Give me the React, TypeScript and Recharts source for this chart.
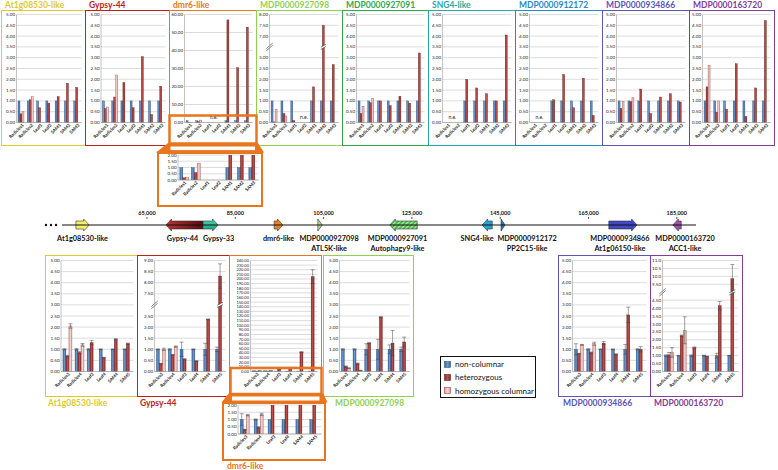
import {
	Bar,
	BarChart,
	CartesianGrid,
	ComposedChart,
	ErrorBar,
	ReferenceArea,
	ReferenceDot,
	ReferenceLine,
	Scatter,
	XAxis,
	YAxis,
} from 'recharts'

// categories
const TOP_CATS = ['Radicles1', 'Radicles2', 'Leaf1', 'Leaf2', 'SAM1', 'SAM2', 'SAM3']
const BOTTOM_CATS = ['Radicles3', 'Radicles4', 'Leaf3', 'Leaf4', 'SAM4', 'SAM5']

// tick labels
const TICKS_5 = ['0.00', '0.50', '1.00', '1.50', '2.00', '2.50', '3.00', '3.50', '4.00', '4.50', '5.00']
const TICKS_60 = ['0.00', '10.00', '20.00', '30.00', '40.00', '50.00', '60.00']
const TICKS_2 = ['0.00', '0.50', '1.00', '1.50', '2.00']
const TICKS_240 = [
	'0.00', '10.00', '20.00', '30.00', '40.00', '50.00', '60.00', '70.00', '80.00', '90.00',
	'100.00', '110.00', '120.00', '130.00', '140.00', '150.00', '160.00', '170.00', '180.00',
	'190.00', '200.00', '210.00', '220.00', '230.00', '240.00',
]
const TICKS_BRK_8 = ['0.00', '0.50', '1.00', '1.50', '2.00', '2.50', '3.00', '7.00', '7.50', '8.00']
const TICKS_BRK_9 = ['0.00', '0.50', '1.00', '1.50', '2.00', '2.50', '7.50', '8.00', '8.50', '9.00']
const TICKS_BRK_11 = ['0.00', '0.50', '1.00', '1.50', '2.00', '2.50', '3.00', '3.50', '4.00', '4.50', '9.50', '10.0', '10.5', '11.0']

// top row: non-columnar / heterozygous / homozygous columnar
const at1gTopNC = [1, 1, 1, 1, 1, 1, 1]
const at1gTopHet = [0.4, 1.05, 0.68, 0.9, 1.2, 1.82, 1.63]
const at1gTopHomo = [0.5, 1.2, null, null, null, null, null]

const gypsyTopNC = [1, 1, 1, 1, 1, 1, 1]
const gypsyTopHet = [0.65, 1.18, 1.85, 0.68, 3.05, 0.37, 1.68]
const gypsyTopHomo = [0.72, 2.2, null, null, null, null, null]

const dmr6TopNC = [1, 1, null, null, 1, 1, 1]
const dmr6TopHet = [0.18, 0.6, null, null, 57, 30.5, 53]
const dmr6TopHomo = [0.2, 1.35, null, null, null, null, null]
const dmr6TopNE = ['Leaf1', 'Leaf2']

const m098TopNC = [1, 1, 1, null, 1, 1, 1]
const m098TopHet = [0.03, 0.42, 3.1, null, 1.65, 7.5, 2.68]
const m098TopHomo = [0.62, 0.3, null, null, null, null, null]
const m098TopNE = ['Leaf2']

const m091TopNC = [1, 1, 1, 1, 1, 1, 1]
const m091TopHet = [0.42, 0.92, 1.0, 0.78, 1.22, 0.9, 3.22]
const m091TopHomo = [0.75, 1.12, null, null, null, null, null]

const sng4TopNC = [null, null, 1, 1, 1, 1, 1]
const sng4TopHet = [null, null, 2.0, 1.6, 1.33, 1.0, 4.05]
const sng4TopHomo = [null, null, null, null, null, null, null]
const sng4TopNE = ['Radicles1', 'Radicles2']

const m172TopNC = [null, null, 1, 1, 1, 1, 1]
const m172TopHet = [null, null, 1.05, 2.22, 0.68, 2.05, 0.33]
const m172TopHomo = [null, null, null, null, null, null, null]
const m172TopNE = ['Radicles1', 'Radicles2']

const m866TopNC = [1, 1, 1, 1, 1, 1, 1]
const m866TopHet = [0.65, 0.97, 1.55, 0.42, 1.18, 1.33, 0.95]
const m866TopHomo = [0.98, 1.15, null, null, null, null, null]

const m720TopNC = [1, 1, 1, 1, 1, 1, 1]
const m720TopHet = [1.65, 0.48, 0.62, 2.72, 0.28, 1.6, 4.72]
const m720TopHomo = [2.65, 1.0, null, null, null, null, null]

// bottom row, with standard errors
const at1gBotNC = [1, 1, 1, 1, 1, 1]
const at1gBotNCErr = [0.03, 0.04, 0.03, 0.02, 0.02, 0.02]
const at1gBotHet = [0.7, 0.85, 1.3, 0.62, 1.45, 1.25]
const at1gBotHetErr = [0.03, 0.04, 0.1, 0.02, 0.03, 0.03]
const at1gBotHomo = [2.05, 1.2, null, null, null, null]
const at1gBotHomoErr = [0.1, 0.06, null, null, null, null]

const gypsyBotNC = [1, 1, 1, 1, 1, 1]
const gypsyBotNCErr = [0.02, 0.03, 0.32, 0.02, 0.27, 0.1]
const gypsyBotHet = [0.35, 0.75, 0.55, 0.47, 2.35, 8.3]
const gypsyBotHetErr = [0.02, 0.02, 0.03, 0.02, 0.02, 0.55]
const gypsyBotHomo = [1.0, 1.12, null, null, null, null]
const gypsyBotHomoErr = [0.05, 0.03, null, null, null, null]

const dmr6BotNC = [1, 1, 1, 1, 1, 1]
const dmr6BotNCErr = [0.4, 0.04, 0, 0, 0, 0]
const dmr6BotHet = [0.3, 0.45, 5.5, 7, 42, 205]
const dmr6BotHetErr = [0.03, 0.05, 0.4, 0.4, 1, 15]
const dmr6BotHomo = [1.3, 1.35, null, null, null, null]
const dmr6BotHomoErr = [0.05, 0.08, null, null, null, null]

const m098BotNC = [1, 1, 1, 1, 1, 1]
const m098BotNCErr = [0.03, 0.03, 0.25, 0.45, 0.2, 0.1]
const m098BotHet = [0.22, 0.35, 1.28, 2.45, 1.28, 1.33]
const m098BotHetErr = [0.03, 0.03, 0.03, 0.03, 0.57, 0.22]
const m098BotHomo = [0.15, 0.05, null, null, null, null]
const m098BotHomoErr = [0.02, 0.01, null, null, null, null]

const m866BotNC = [1, 1, 1, 1, 1, 1]
const m866BotNCErr = [0.25, 0.03, 0.02, 0.02, 0.22, 0.03]
const m866BotHet = [0.8, 0.85, 1.28, 0.78, 2.55, 1.0]
const m866BotHetErr = [0.02, 0.03, 0.07, 0.02, 0.35, 0.12]
const m866BotHomo = [1.2, 1.25, null, null, null, null]
const m866BotHomoErr = [0.02, 0.07, null, null, null, null]

const m720BotNC = [1, 1, 1, 1, 1, 1]
const m720BotNCErr = [0.05, 0.02, 0.05, 0.03, 0.15, 0.02]
const m720BotHet = [1.05, 2.25, 1.5, 0.95, 4.15, 9.85]
const m720BotHetErr = [0.15, 0.05, 0.05, 0.02, 0.27, 0.9]
const m720BotHomo = [1.2, 2.6, null, null, null, null]
const m720BotHomoErr = [0.3, 0.85, null, null, null, null]

// gene map (bp)
const MAP_TICKS = [65000, 85000, 105000, 125000, 145000, 165000, 185000]
const MAP_DOMAIN = [45750, 189350]
const GENE_NAMES = ['At1g08530-like', 'Gypsy-44', 'Gypsy-33', 'dmr6-like', 'MDP0000927098', 'MDP0000927091', 'SNG4-like', 'MDP0000912172', 'MDP0000934866', 'MDP0000163720']
const GENE_ALIAS = ['', '', '', '', 'ATL5K-like', 'Autophagy9-like', '', 'PP2C15-like', 'At1g06150-like', 'ACC1-like']
const GENE_START = [48900, 69300, 77700, 93800, 103700, 120000, 140900, 145200, 169600, 184100]
const GENE_END = [51900, 77700, 81100, 95800, 104700, 126200, 143200, 146100, 176000, 186000]
const GENE_STRAND = [1, -1, 1, 1, 1, -1, -1, 1, 1, -1]

const GENE_FILL: Record<string, string> = {
	'At1g08530-like': '#f4f06a',
	'Gypsy-44': 'url(#gGypsy44)',
	'Gypsy-33': 'url(#gGypsy33)',
	'dmr6-like': '#e8822a',
	MDP0000927098: '#b9dc8c',
	MDP0000927091: 'url(#hatch091)',
	'SNG4-like': '#27a2d4',
	MDP0000912172: '#2e75b6',
	MDP0000934866: '#4048c8',
	MDP0000163720: '#a050a8',
}
const LABEL_DX: Record<string, number> = {
	'Gypsy-44': -2,
	'Gypsy-33': 8,
	MDP0000927098: 9,
	MDP0000927091: -6,
	'SNG4-like': -10,
	MDP0000912172: 24,
	MDP0000934866: -3,
	MDP0000163720: 8,
}

type Val = number | null
type Brk = { low: number; high: number; gap: number }

const toDisp = (v: Val, brk?: Brk) => {
	if (v == null) return null
	if (!brk || v <= brk.low) return v
	return v - brk.high + brk.low + brk.gap
}

const BreakMark = ({ cx, cy, hw, dy }: { cx: number; cy: number; hw: number; dy: number }) => {
	const g = 1.1
	return (
		<g>
			<polygon
				points={`${cx - hw},${cy + dy - g} ${cx + hw},${cy - dy - g} ${cx + hw},${cy - dy + g} ${cx - hw},${cy + dy + g}`}
				fill="#fff"
			/>
			<line x1={cx - hw} y1={cy + dy - g} x2={cx + hw} y2={cy - dy - g} stroke="#333" strokeWidth={0.6} />
			<line x1={cx - hw} y1={cy + dy + g} x2={cx + hw} y2={cy - dy + g} stroke="#333" strokeWidth={0.6} />
		</g>
	)
}

const barShape = (key: string, fill: string, stroke: string, brk?: Brk) => (p: any) => {
	const { x, y, width, height, payload } = p
	if (!(height > 0) || !(width > 0)) return <g />
	const disp = payload[key]
	const mid = brk ? brk.low + brk.gap / 2 : 0
	const broken = brk && disp > brk.low + brk.gap
	const ym = broken ? y + height - height * (mid / disp) : 0
	return (
		<g>
			<rect x={x} y={y} width={width} height={height} fill={fill} stroke={stroke} strokeWidth={0.35} />
			{broken && <BreakMark cx={x + width / 2} cy={ym} hw={width / 2 + 1.5} dy={1.5} />}
		</g>
	)
}

const CatTick = (p: any) => (
	<g transform={`translate(${p.x + 1.5},${p.y + 0.5})`}>
		<text transform="rotate(-45)" textAnchor="end" dy={2} fontSize={4.4} fontWeight={700} fill="#222">
			{p.payload.value}
		</text>
	</g>
)

interface PanelCfg {
	title?: string
	color: string
	left: number
	top: number
	width: number
	height: number
	border: number
	titleX?: number
	titleY?: number
	cats: string[]
	nc: Val[]
	het: Val[]
	homo: Val[]
	ncErr?: Val[]
	hetErr?: Val[]
	homoErr?: Val[]
	ticks: string[]
	brk?: Brk
	ne?: string[]
	yw: number
	mTop: number
	xh: number
	clip?: boolean
	tickFs?: number
}

const Panel = ({ cfg }: { cfg: PanelCfg }) => {
	const w = cfg.width - 2 * cfg.border
	const h = cfg.height - 2 * cfg.border
	const margin = { top: cfg.mTop, right: 2.5, left: 0, bottom: 0 }
	const band = (w - margin.right - cfg.yw) / cfg.cats.length
	const tickVals = cfg.ticks.map((t) => toDisp(parseFloat(t), cfg.brk) as number)
	const yMax = tickVals[tickVals.length - 1]
	const fmt = (v: number) => {
		const i = tickVals.findIndex((t) => Math.abs(t - v) < 1e-6)
		return i >= 0 ? cfg.ticks[i] : ''
	}
	const rows = cfg.cats.map((c, i) => ({
		cat: c,
		nc: toDisp(cfg.nc[i], cfg.brk),
		het: toDisp(cfg.het[i], cfg.brk),
		homo: toDisp(cfg.homo[i], cfg.brk),
		ncErr: cfg.ncErr?.[i] ?? null,
		hetErr: cfg.hetErr?.[i] ?? null,
		homoErr: cfg.homoErr?.[i] ?? null,
	}))
	const hasErr = !!cfg.ncErr
	const errProps = { width: 2, stroke: '#444', strokeWidth: 0.5 }
	const axisLine = { stroke: '#9a9a9a', strokeWidth: 0.6 }
	return (
		<>
			<div
				style={{
					position: 'absolute',
					left: cfg.left,
					top: cfg.top,
					width: cfg.width,
					height: cfg.height,
					border: `${cfg.border}px solid ${cfg.color}`,
					boxSizing: 'border-box',
					background: '#fff',
				}}
			>
				<BarChart width={w} height={h} data={rows} margin={margin} barCategoryGap="16%" barGap={0}>
					<CartesianGrid vertical={false} stroke="#c6c6c6" strokeWidth={0.6} />
					<XAxis
						dataKey="cat"
						interval={0}
						tickLine={false}
						tickSize={0}
						tickMargin={1}
						axisLine={axisLine}
						height={cfg.xh}
						tick={CatTick}
					/>
					<YAxis
						type="number"
						domain={[0, yMax]}
						ticks={tickVals}
						interval={0}
						width={cfg.yw}
						tickLine={false}
						tickSize={0}
						axisLine={axisLine}
						tickMargin={1.5}
						tick={{ fontSize: cfg.tickFs ?? 4.5, fill: '#222' }}
						tickFormatter={fmt}
						allowDataOverflow={!!cfg.clip}
					/>
					{cfg.brk && (
						<ReferenceLine
							y={cfg.brk.low + cfg.brk.gap / 2}
							stroke="none"
							shape={(p: any) => <BreakMark cx={p.x1} cy={p.y1} hw={3.2} dy={2.8} />}
						/>
					)}
					<Bar dataKey="nc" isAnimationActive={false} shape={barShape('nc', 'url(#gBlue)', '#2f5a8c', cfg.brk)}>
						{hasErr && <ErrorBar dataKey="ncErr" {...errProps} />}
					</Bar>
					<Bar dataKey="het" isAnimationActive={false} shape={barShape('het', 'url(#gRed)', '#6e2422', cfg.brk)}>
						{hasErr && <ErrorBar dataKey="hetErr" {...errProps} />}
					</Bar>
					<Bar dataKey="homo" isAnimationActive={false} shape={barShape('homo', 'url(#gPink)', '#9a4a48', cfg.brk)}>
						{hasErr && <ErrorBar dataKey="homoErr" {...errProps} />}
					</Bar>
					{cfg.ne && cfg.ne.length > 0 && (
						<ReferenceDot
							x={cfg.ne[0]}
							y={yMax * 0.045}
							r={0}
							shape={(p: any) => (
								<text x={p.cx + (band * (cfg.ne!.length - 1)) / 2} y={p.cy} dy={1.5} fontSize={5} textAnchor="middle" fill="#222">
									n.e.
								</text>
							)}
						/>
					)}
				</BarChart>
			</div>
			{cfg.title && (
				<div
					style={{
						position: 'absolute',
						left: cfg.titleX,
						top: cfg.titleY,
						color: cfg.color,
						fontSize: 8.5,
						fontWeight: 700,
						lineHeight: '10px',
						whiteSpace: 'nowrap',
					}}
				>
					{cfg.title}
				</div>
			)}
		</>
	)
}

const C = {
	yellow: '#dccb2e',
	red: '#b8231c',
	orange: '#e8761e',
	lime: '#92d050',
	green: '#2fa84f',
	teal: '#2aa9a2',
	blue: '#1f8bc7',
	indigo: '#5b57b5',
	purple: '#7e3f98',
}

const top = (left: number, width: number, yw: number) => ({ left, width, top: 10, height: 136, border: 1.5, yw, mTop: 3.5, xh: 21.5, titleX: left + 4, titleY: 0, cats: TOP_CATS })
const bottom = (left: number, width: number, yw: number, titleX: number) => ({ left, width, top: 255, height: 142, border: 1.5, yw, mTop: 4.5, xh: 23.5, titleX, titleY: 398, cats: BOTTOM_CATS })

const PANELS: PanelCfg[] = [
	{ ...top(1, 85, 14.5), title: 'At1g08530-like', color: C.yellow, nc: at1gTopNC, het: at1gTopHet, homo: at1gTopHomo, ticks: TICKS_5 },
	{ ...top(85, 85, 15), title: 'Gypsy-44', color: C.red, nc: gypsyTopNC, het: gypsyTopHet, homo: gypsyTopHomo, ticks: TICKS_5 },
	{ ...top(169, 88, 14.5), title: 'dmr6-like', color: C.orange, nc: dmr6TopNC, het: dmr6TopHet, homo: dmr6TopHomo, ticks: TICKS_60, ne: dmr6TopNE },
	{ ...top(256, 87, 12.5), title: 'MDP0000927098', color: C.lime, nc: m098TopNC, het: m098TopHet, homo: m098TopHomo, ticks: TICKS_BRK_8, brk: { low: 3, high: 7, gap: 1 }, ne: m098TopNE },
	{ ...top(342, 87, 13.5), title: 'MDP0000927091', color: C.green, nc: m091TopNC, het: m091TopHet, homo: m091TopHomo, ticks: TICKS_5 },
	{ ...top(428, 88, 13.5), title: 'SNG4-like', color: C.teal, nc: sng4TopNC, het: sng4TopHet, homo: sng4TopHomo, ticks: TICKS_5, ne: sng4TopNE },
	{ ...top(515, 88, 13.5), title: 'MDP0000912172', color: C.blue, nc: m172TopNC, het: m172TopHet, homo: m172TopHomo, ticks: TICKS_5, ne: m172TopNE },
	{ ...top(602, 88, 13.5), title: 'MDP0000934866', color: C.indigo, nc: m866TopNC, het: m866TopHet, homo: m866TopHomo, ticks: TICKS_5 },
	{ ...top(689, 86, 12.5), title: 'MDP0000163720', color: C.purple, nc: m720TopNC, het: m720TopHet, homo: m720TopHomo, ticks: TICKS_5 },
	// zoomed inset of dmr6-like (top)
	{ left: 157, top: 152, width: 106, height: 55, border: 2, yw: 19, mTop: 1, xh: 25, cats: TOP_CATS, color: C.orange, nc: dmr6TopNC, het: dmr6TopHet, homo: dmr6TopHomo, ticks: TICKS_2, clip: true },
	{ ...bottom(45, 93, 15, 48), title: 'At1g08530-like', color: C.yellow, nc: at1gBotNC, ncErr: at1gBotNCErr, het: at1gBotHet, hetErr: at1gBotHetErr, homo: at1gBotHomo, homoErr: at1gBotHomoErr, ticks: TICKS_5 },
	{ ...bottom(137, 93, 16.5, 140), title: 'Gypsy-44', color: C.red, nc: gypsyBotNC, ncErr: gypsyBotNCErr, het: gypsyBotHet, hetErr: gypsyBotHetErr, homo: gypsyBotHomo, homoErr: gypsyBotHomoErr, ticks: TICKS_BRK_9, brk: { low: 2.5, high: 7.5, gap: 1 } },
	{ ...bottom(229, 93, 20.5, 0), color: C.orange, nc: dmr6BotNC, ncErr: dmr6BotNCErr, het: dmr6BotHet, hetErr: dmr6BotHetErr, homo: dmr6BotHomo, homoErr: dmr6BotHomoErr, ticks: TICKS_240, tickFs: 4 },
	{ ...bottom(323, 91, 15.5, 335), title: 'MDP0000927098', color: C.lime, nc: m098BotNC, ncErr: m098BotNCErr, het: m098BotHet, hetErr: m098BotHetErr, homo: m098BotHomo, homoErr: m098BotHomoErr, ticks: TICKS_5 },
	{ ...bottom(558, 93, 13.5, 563), title: 'MDP0000934866', color: C.indigo, nc: m866BotNC, ncErr: m866BotNCErr, het: m866BotHet, hetErr: m866BotHetErr, homo: m866BotHomo, homoErr: m866BotHomoErr, ticks: TICKS_5 },
	{ ...bottom(650, 93, 11.5, 654), title: 'MDP0000163720', color: C.purple, nc: m720BotNC, ncErr: m720BotNCErr, het: m720BotHet, hetErr: m720BotHetErr, homo: m720BotHomo, homoErr: m720BotHomoErr, ticks: TICKS_BRK_11, brk: { low: 4.5, high: 9.5, gap: 1 } },
	// zoomed inset of dmr6-like (bottom)
	{ left: 222, top: 402, width: 104, height: 59, border: 2, yw: 14, mTop: 1, xh: 25, cats: BOTTOM_CATS, color: C.orange, title: 'dmr6-like', titleX: 227, titleY: 461, nc: dmr6BotNC, ncErr: dmr6BotNCErr, het: dmr6BotHet, hetErr: dmr6BotHetErr, homo: dmr6BotHomo, homoErr: dmr6BotHomoErr, ticks: TICKS_2, clip: true },
]

const geneRows = GENE_NAMES.map((name, i) => ({
	name,
	alias: GENE_ALIAS[i],
	start: GENE_START[i],
	end: GENE_END[i],
	strand: GENE_STRAND[i],
	mid: (GENE_START[i] + GENE_END[i]) / 2,
	y: 0,
}))

const arrowShape = (strand: number, fill: string) => (p: any) => {
	const { x, width } = p
	const cy = p.y + p.height / 2
	const hl = Math.min(5.5, width)
	const b = 4
	const hh = 6
	const pts =
		strand > 0
			? [[x, cy - b], [x + width - hl, cy - b], [x + width - hl, cy - hh], [x + width, cy], [x + width - hl, cy + hh], [x + width - hl, cy + b], [x, cy + b]]
			: [[x + width, cy - b], [x + hl, cy - b], [x + hl, cy - hh], [x, cy], [x + hl, cy + hh], [x + hl, cy + b], [x + width, cy + b]]
	return <polygon points={pts.map((q) => q.join(',')).join(' ')} fill={fill} stroke="#333" strokeWidth={0.6} />
}

const GeneMap = () => (
	<div style={{ position: 'absolute', left: 0, top: 205 }}>
		<ComposedChart width={778} height={56} data={geneRows} margin={{ top: 0, right: 82, bottom: 0, left: 62 }}>
			<XAxis
				dataKey="mid"
				type="number"
				orientation="top"
				domain={MAP_DOMAIN}
				ticks={MAP_TICKS}
				interval={0}
				height={14}
				axisLine={false}
				tickSize={2}
				tickLine={{ stroke: '#333', strokeWidth: 0.8 }}
				tickFormatter={(v: number) => v.toLocaleString('en-US')}
				tick={{ fontSize: 5.5, fontWeight: 700, fill: '#111' }}
			/>
			<YAxis hide dataKey="y" type="number" domain={[-6, 1]} />
			<ReferenceLine y={0} stroke="#111" strokeWidth={1} />
			{geneRows.map((g) => (
				<ReferenceArea
					key={g.name}
					x1={g.start}
					x2={g.end}
					y1={-0.5}
					y2={0.5}
					shape={arrowShape(g.strand, GENE_FILL[g.name])}
				/>
			))}
			<Scatter
				dataKey="y"
				isAnimationActive={false}
				shape={(p: any) => {
					const g = p.payload
					const lx = p.cx + (LABEL_DX[g.name] ?? 0)
					return (
						<g fontSize={7.3} fontWeight={700} fill="#111" textAnchor="middle">
							<text x={lx} y={p.cy + 16}>{g.name}</text>
							{g.alias && <text x={lx} y={p.cy + 26}>{g.alias}</text>}
						</g>
					)
				}}
			/>
		</ComposedChart>
	</div>
)

const LEGEND = [
	{ label: 'non-columnar', fill: 'url(#gBlue)', stroke: '#2f5a8c' },
	{ label: 'heterozygous', fill: 'url(#gRed)', stroke: '#6e2422' },
	{ label: 'homozygous columnar', fill: 'url(#gPink)', stroke: '#9a4a48' },
]

const Legend = () => (
	<div
		style={{
			position: 'absolute',
			left: 440,
			top: 356,
			width: 96,
			height: 42,
			border: '1.5px solid #111',
			boxSizing: 'border-box',
			background: '#fff',
		}}
	>
		{LEGEND.map((l, i) => (
			<div key={l.label} style={{ position: 'absolute', left: 3, top: 2 + i * 13.3, display: 'flex', alignItems: 'center', fontSize: 8, lineHeight: '10px', whiteSpace: 'nowrap', color: '#111' }}>
				<svg width={7} height={7} style={{ marginRight: 4 }}>
					<rect x={0.5} y={0.5} width={6} height={6} fill={l.fill} stroke={l.stroke} strokeWidth={0.6} />
				</svg>
				{l.label}
			</div>
		))}
	</div>
)

const Defs = () => (
	<svg width={0} height={0} style={{ position: 'absolute' }}>
		<defs>
			<linearGradient id="gBlue" x1="0" y1="0" x2="1" y2="0">
				<stop offset="0" stopColor="#3a6698" />
				<stop offset="0.5" stopColor="#6d98d0" />
				<stop offset="1" stopColor="#3a6698" />
			</linearGradient>
			<linearGradient id="gRed" x1="0" y1="0" x2="1" y2="0">
				<stop offset="0" stopColor="#7e2a28" />
				<stop offset="0.5" stopColor="#c0504d" />
				<stop offset="1" stopColor="#7e2a28" />
			</linearGradient>
			<linearGradient id="gPink" x1="0" y1="0" x2="1" y2="0">
				<stop offset="0" stopColor="#d9a09e" />
				<stop offset="0.5" stopColor="#f2d4d3" />
				<stop offset="1" stopColor="#d9a09e" />
			</linearGradient>
			<linearGradient id="gGypsy44" x1="0" y1="0" x2="1" y2="0">
				<stop offset="0" stopColor="#b83434" />
				<stop offset="1" stopColor="#5a0c10" />
			</linearGradient>
			<linearGradient id="gGypsy33" x1="0" y1="0" x2="0" y2="1">
				<stop offset="0" stopColor="#48d8b0" />
				<stop offset="1" stopColor="#16a07c" />
			</linearGradient>
			<pattern id="hatch091" width="3" height="3" patternUnits="userSpaceOnUse" patternTransform="rotate(45)">
				<rect width="3" height="3" fill="#3cb86a" />
				<rect width="1.2" height="3" fill="#c8ec7a" />
			</pattern>
		</defs>
	</svg>
)

// zoom frames and funnels linking the dmr6-like panels to their insets
const Overlay = () => (
	<svg width={778} height={470} style={{ position: 'absolute', left: 0, top: 0, pointerEvents: 'none' }}>
		<g fill="none" stroke={C.orange} strokeWidth={2.5}>
			<rect x={169.5} y={115.5} width={87} height={28} />
			<rect x={230.5} y={368} width={91} height={26} />
		</g>
		<polygon points="168,143 258,143 264,152.5 156,152.5" fill={C.orange} />
		<rect x={170.5} y={146.5} width={84.5} height={3.6} fill="#fff" />
		<polygon points="229,393 323,393 327.5,402.5 221.5,402.5" fill={C.orange} />
		<rect x={232} y={396.5} width={87.5} height={4} fill="#fff" />
		<g fill="#111">
			<circle cx={46} cy={225} r={1.2} />
			<circle cx={51} cy={225} r={1.2} />
			<circle cx={56} cy={225} r={1.2} />
		</g>
	</svg>
)

export default function App() {
	return (
		<div
			style={{
				position: 'absolute',
				left: 0,
				top: 0,
				width: 778,
				height: 470,
				background: '#fff',
				overflow: 'hidden',
				fontFamily: 'Lato, "DejaVu Sans", sans-serif',
			}}
		>
			<Defs />
			{PANELS.map((p, i) => (
				<Panel key={i} cfg={p} />
			))}
			<GeneMap />
			<Legend />
			<Overlay />
		</div>
	)
}
